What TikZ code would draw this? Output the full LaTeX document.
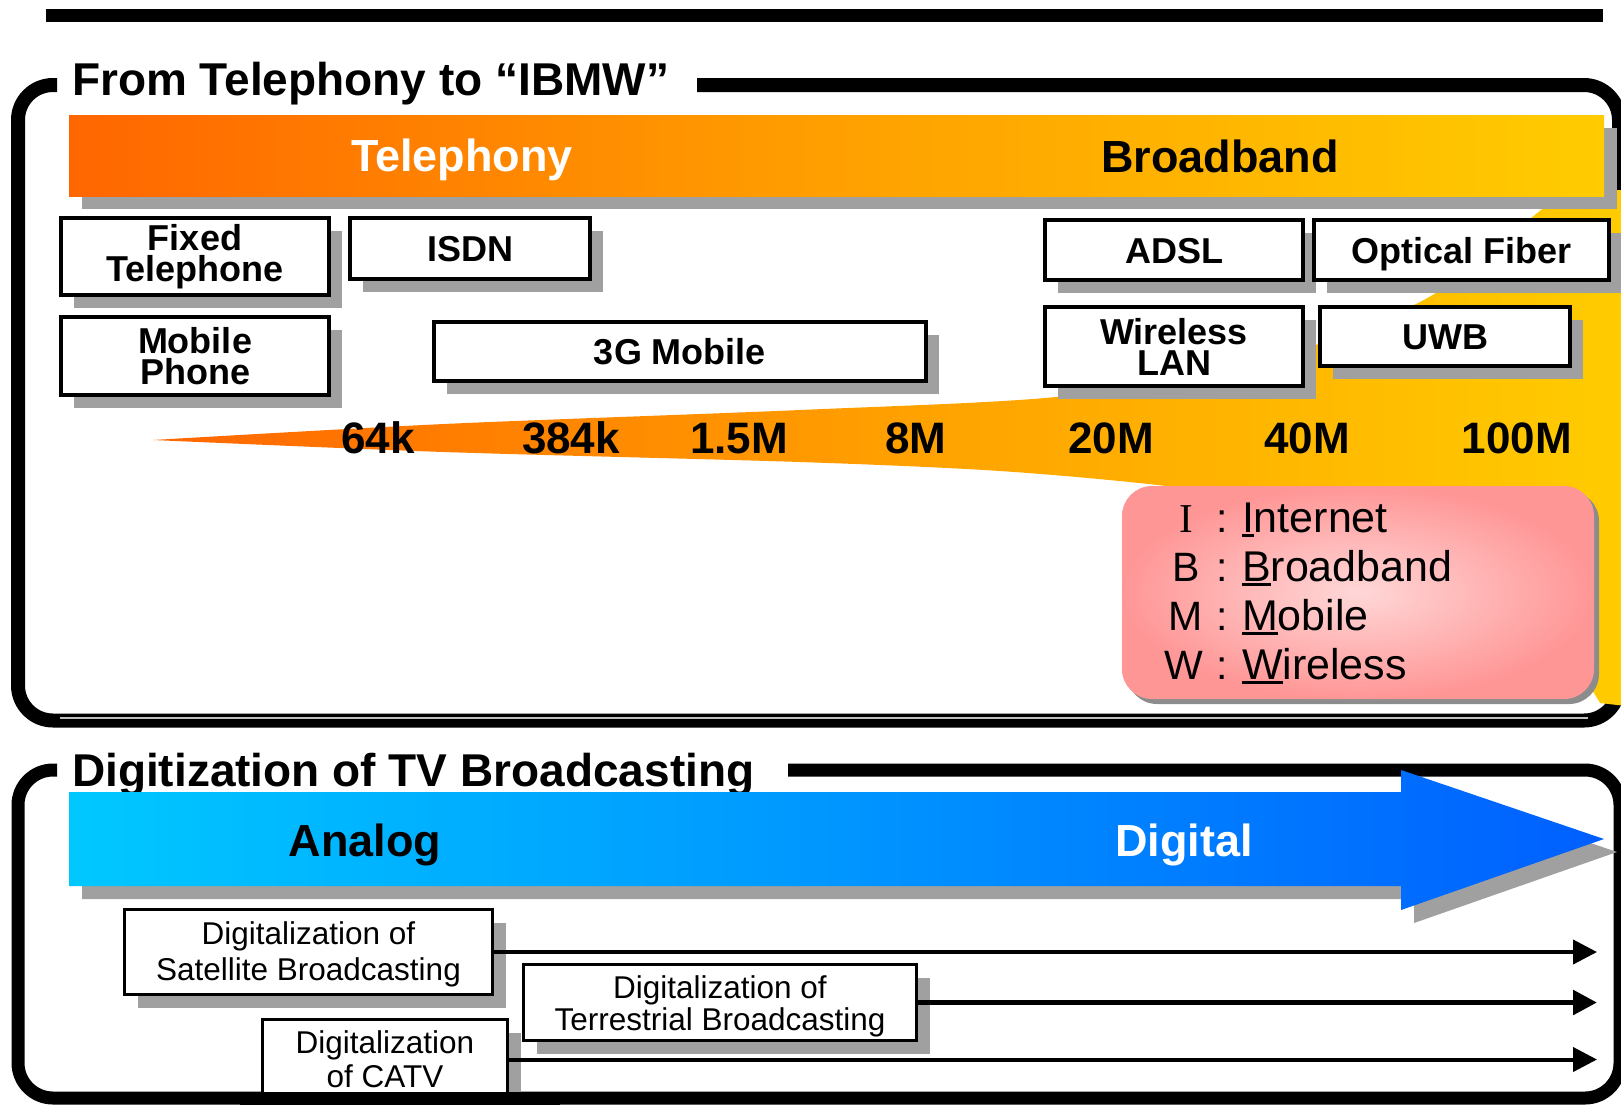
\documentclass[tikz,border=0pt]{standalone}
\usepackage{fontspec}
\setmainfont{Liberation Sans}
\newfontfamily\keyserif{Liberation Serif}
\usetikzlibrary{shadows,arrows.meta}

\definecolor{bandRed}{RGB}{255,102,0}
\definecolor{bandMid}{RGB}{255,160,0}
\definecolor{bandGold}{RGB}{255,204,0}
\definecolor{tvCyan}{RGB}{0,200,255}
\definecolor{tvMid}{RGB}{0,150,255}
\definecolor{tvBlue}{RGB}{0,95,255}
\definecolor{keyEdge}{RGB}{255,150,150}
\definecolor{keyCore}{RGB}{255,215,215}
\definecolor{shadowgray}{RGB}{160,160,160}

% first letter with a heavy underline
\newcommand{\ulletter}[1]{\setbox0=\hbox{#1}\rlap{\rule[-4.5pt]{\wd0}{2.6pt}}#1}

\begin{document}
\begin{tikzpicture}[x=1pt,y=-1pt,
  every node/.style={inner sep=0pt, outer sep=0pt},
  frameline/.style={line width=14pt, rounded corners=35pt},
  boxshadow/.style={drop shadow={shadow xshift=13pt, shadow yshift=-13pt, fill=shadowgray, opacity=1}},
  techbox/.style={draw, line width=4pt, fill=white, align=center, boxshadow,
    font=\bfseries\fontsize{36}{31}\selectfont},
  tvbox/.style={draw, line width=3pt, fill=white, align=center, boxshadow,
    font=\fontsize{31.5}{34}\selectfont},
  speed/.style={anchor=base, font=\bfseries\fontsize{44}{44}\selectfont},
  bandlabel/.style={anchor=base, font=\bfseries\fontsize{45}{45}\selectfont},
  sectiontitle/.style={anchor=base west, font=\bfseries\fontsize{46}{46}\selectfont},
  keyletter/.style={anchor=base, font=\fontsize{41}{41}\selectfont},
  keyword/.style={anchor=base west, font=\fontsize{43}{43}\selectfont},
  timeline/.style={line width=4pt, -{Triangle[length=24pt,width=24pt]}}
]

\useasboundingbox (0,0) rectangle (1621,1104);
\fill[white] (0,0) rectangle (1621,1104);

% rule across the top
\draw[line width=13pt] (46,15.5) -- (1603,15.5);

% ---------------- From Telephony to IBMW ----------------
\draw[frameline] (57,85) -- (18,85) -- (18,720.5) -- (1619,720.5) -- (1619,85) -- (697,85);
\draw[black!25, line width=2.5pt] (60,718) -- (1588,718);
\node[sectiontitle] (title1) at (72,95) {From Telephony to “IBMW”};

% widening speed wedge
\shade[left color=bandRed, right color=bandGold, middle color=bandMid]
  plot[smooth, tension=0.5] coordinates {(153,440) (444,424) (800,410) (1056,397) (1250,366) (1418,303) (1500,243) (1565,190)}
  -- (1626,190) -- (1626,706)
  -- plot[smooth, tension=0.5] coordinates {(1600,703) (1560,650) (1450,565) (1300,507) (1166,486) (1000,471) (800,462) (444,452) (153,440)}
  -- cycle;

% band bar
\node[minimum width=1535pt, minimum height=81pt, anchor=north west,
      left color=bandRed, right color=bandGold, middle color=bandMid, boxshadow] (bandbar) at (69,115) {};
\node[bandlabel, text=white] (telephony) at (462,171) {Telephony};
\node[bandlabel] (broadband) at (1220,172) {Broadband};

% access technologies
\node[techbox, minimum width=268pt, minimum height=77pt] (fixed) at (195,256.5) {Fixed\\Telephone};
\node[techbox, minimum width=268pt, minimum height=78pt] (mobile) at (195,356) {Mobile\\Phone};
\node[techbox, minimum width=240pt, minimum height=61pt, text height=26pt, text depth=0pt] (isdn) at (470,248.5) {ISDN};
\node[techbox, minimum width=492pt, minimum height=59pt, text height=26pt, text depth=0pt] (mobile3g) at (680,351.5) {3G Mobile};
\node[techbox, minimum width=258pt, minimum height=60pt, text height=26pt, text depth=0pt] (adsl) at (1174,250) {ADSL};
\node[techbox, minimum width=295pt, minimum height=60pt, text height=26pt, text depth=0pt] (fiber) at (1461.5,250) {Optical Fiber};
\node[techbox, minimum width=258pt, minimum height=79pt] (wlan) at (1174,346.5) {Wireless\\LAN};
\node[techbox, minimum width=250pt, minimum height=59pt, text height=26pt, text depth=0pt] (uwb) at (1445,336.5) {UWB};

% speeds
\node[speed] (sp64k) at (378,453) {64k};
\node[speed] (sp384k) at (571,453) {384k};
\node[speed] (sp15m) at (739,453) {1.5M};
\node[speed] (sp8m) at (916,453) {8M};
\node[speed] (sp20m) at (1111,453) {20M};
\node[speed] (sp40m) at (1307,453) {40M};
\node[speed] (sp100m) at (1517,453) {100M};

% key to IBMW
\node[minimum width=472pt, minimum height=213pt, anchor=north west, rounded corners=30pt,
      inner color=keyCore, outer color=keyEdge,
      drop shadow={shadow xshift=5pt, shadow yshift=-5pt, fill=black!45, opacity=1}] (keybox) at (1122,486) {};
\node[keyletter, font=\keyserif\fontsize{41}{41}\selectfont] (keyI) at (1186,532) {I};
\node[keyletter] (keyB) at (1186,581) {B};
\node[keyletter] (keyM) at (1186,630) {M};
\node[keyletter] (keyW) at (1184,679) {W};
\node[keyletter] (colI) at (1222,532) {:};
\node[keyletter] (colB) at (1222,581) {:};
\node[keyletter] (colM) at (1222,630) {:};
\node[keyletter] (colW) at (1222,679) {:};
\node[keyword] (wordI) at (1242,532) {\ulletter{I}nternet};
\node[keyword] (wordB) at (1242,581) {\ulletter{B}roadband};
\node[keyword] (wordM) at (1242,630) {\ulletter{M}obile};
\node[keyword] (wordW) at (1242,679) {\ulletter{W}ireless};

% ---------------- Digitization of TV Broadcasting ----------------
\draw[line width=13pt, rounded corners=35pt] (57,770) -- (18,770) -- (18,1098) -- (1620,1098) -- (1620,770) -- (788,770);
\node[sectiontitle] (title2) at (72,786) {Digitization of TV Broadcasting};

% analog to digital arrow
\fill[shadowgray, xshift=13pt, yshift=-13pt]
  (69,792) -- (1401,792) -- (1401,770) -- (1604,839) -- (1401,910) -- (1401,886) -- (69,886) -- cycle;
\shade[left color=tvCyan, right color=tvBlue, middle color=tvMid]
  (69,792) -- (1401,792) -- (1401,770) -- (1604,839) -- (1401,910) -- (1401,886) -- (69,886) -- cycle;
\node[bandlabel] (analog) at (365,856) {Analog};
\node[bandlabel, text=white] (digital) at (1184,856) {Digital};

% digitalization steps (struts in the first line lower the text a little)
\node[tvbox, minimum width=368pt, minimum height=85pt, font=\fontsize{31.5}{36}\selectfont] (sat) at (308.5,952) {\rule{0pt}{27pt}Digitalization of\\Satellite Broadcasting};
\node[tvbox, minimum width=393pt, minimum height=76pt, font=\fontsize{31.5}{32}\selectfont] (terr) at (720,1002.5) {\rule{0pt}{31pt}Digitalization of\\Terrestrial Broadcasting};
\node[tvbox, minimum width=245pt, minimum height=80pt] (catv) at (385,1059.5) {Digitalization\\of CATV};

\coordinate (tlend) at (1597,0);
\draw[timeline] (sat.east) -- (sat.east -| tlend);
\draw[timeline, line width=5.5pt] (terr.east) -- (terr.east -| tlend);
\draw[timeline] (catv.east) -- (catv.east -| tlend);

% frame bottom passes over the CATV box
\draw[line width=13pt] (240,1098) -- (560,1098);
\end{tikzpicture}
\end{document}
